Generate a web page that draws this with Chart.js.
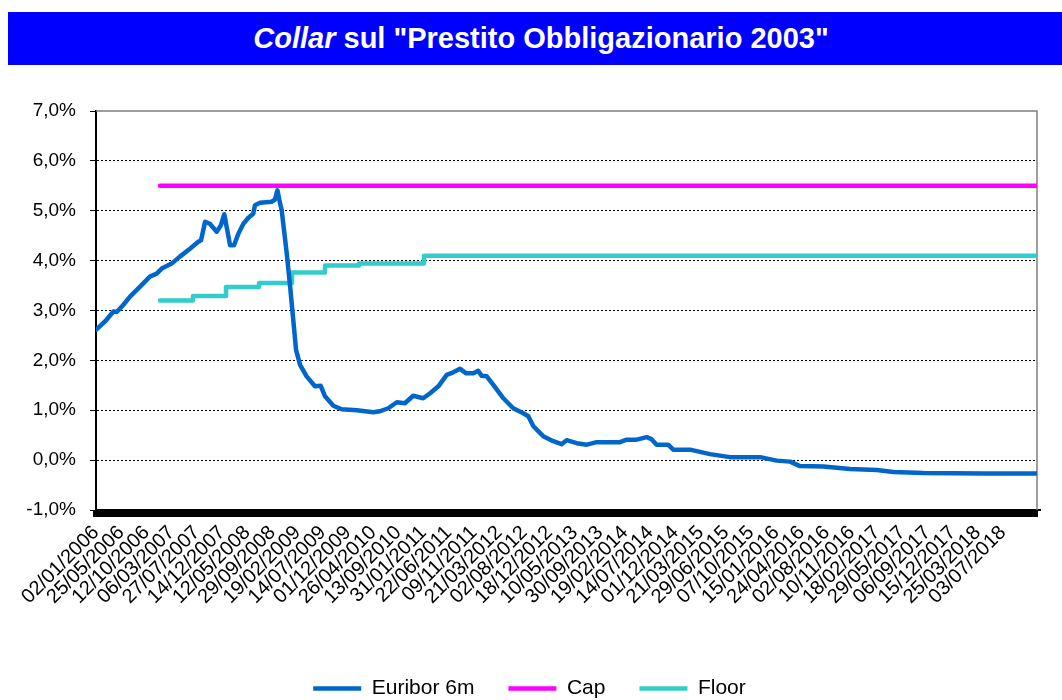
<!DOCTYPE html>
<html lang="it">
<head>
<meta charset="UTF-8">
<title>Collar sul "Prestito Obbligazionario 2003"</title>
<script src="https://cdn.jsdelivr.net/npm/chart.js"></script>
<style>
  body { margin: 0; background: #fff; overflow: hidden; }
  #titolo {
    position: absolute; left: 8px; top: 12px; width: 1042px; height: 53px; padding-left: 12px;
    background: #0000ff; color: #fff; text-align: center;
    font: bold 29px "Liberation Sans", Arial, sans-serif; line-height: 53px; z-index: 2;
  }
  #box { position: absolute; left: 0; top: 0; width: 1062px; height: 700px; }
</style>
</head>
<body>
<div id="titolo"><i>Collar</i> sul "Prestito Obbligazionario 2003"</div>
<div id="box"><canvas id="grafico" width="1062" height="700"></canvas></div>

<script>
// etichette dell'asse x: una ogni 100 osservazioni
const tickLabels = ['02/01/2006', '25/05/2006', '12/10/2006', '06/03/2007', '27/07/2007', '14/12/2007',
    '12/05/2008', '29/09/2008', '19/02/2009', '14/07/2009', '01/12/2009', '26/04/2010', '13/09/2010',
    '31/01/2011', '22/06/2011', '09/11/2011', '21/03/2012', '02/08/2012', '18/12/2012', '10/05/2013',
    '30/09/2013', '19/02/2014', '14/07/2014', '01/12/2014', '21/03/2015', '29/06/2015', '07/10/2015',
    '15/01/2016', '24/04/2016', '02/08/2016', '10/11/2016', '18/02/2017', '29/05/2017', '06/09/2017',
    '15/12/2017', '25/03/2018', '03/07/2018'];

// Euribor 6m (n. osservazione, valore %)
const euriborObs = [0, 36, 69, 82, 108, 135, 175, 214, 241, 261, 300, 333, 373, 406, 417, 433, 452, 479, 496, 509,
    521, 532, 548, 565, 585, 605, 624, 631, 651, 697, 710, 720, 728, 737, 757, 770, 783, 794, 810, 836,
    869, 892, 909, 942, 975, 1035, 1101, 1127, 1160, 1194, 1226, 1259, 1299, 1326, 1359, 1392, 1418, 1445, 1469, 1498,
    1517, 1531, 1551, 1577, 1617, 1656, 1696, 1716, 1736, 1775, 1815, 1848, 1868, 1908, 1948, 1987, 2080, 2106, 2146, 2186,
    2205, 2225, 2271, 2291, 2358, 2437, 2516, 2636, 2702, 2755, 2794, 2887, 2993, 3099, 3165, 3284, 3522, 3735];
const euriborVal = [2.61, 2.78, 2.98, 2.97, 3.11, 3.28, 3.48, 3.68, 3.74, 3.84, 3.94, 4.08, 4.24, 4.38, 4.41, 4.78, 4.74, 4.58, 4.71, 4.93,
    4.61, 4.31, 4.31, 4.54, 4.74, 4.86, 4.94, 5.11, 5.16, 5.18, 5.22, 5.41, 5.21, 5.01, 4.15, 3.51, 2.81, 2.21, 1.91, 1.68,
    1.48, 1.49, 1.28, 1.09, 1.02, 1.00, 0.96, 0.98, 1.04, 1.16, 1.14, 1.29, 1.24, 1.34, 1.48, 1.71, 1.76, 1.83, 1.74, 1.74,
    1.79, 1.69, 1.68, 1.51, 1.24, 1.04, 0.94, 0.88, 0.68, 0.48, 0.38, 0.32, 0.40, 0.34, 0.31, 0.36, 0.36, 0.41, 0.41, 0.46,
    0.42, 0.31, 0.31, 0.21, 0.21, 0.12, 0.06, 0.06, -0.01, -0.03, -0.12, -0.13, -0.18, -0.20, -0.24, -0.26, -0.27, -0.27];

// Cap e Floor (a gradini)
const capObs = [254, 3735];
const capVal = [5.5, 5.5];
const floorObs = [254, 385, 516, 647, 778, 909, 1044, 1302, 3735];
const floorVal = [3.2, 3.29, 3.47, 3.55, 3.76, 3.9, 3.94, 4.1, 4.1];

const font = '"Liberation Sans", Arial, sans-serif';

function punti(xs, ys) {
    return xs.map((x, i) => ({ x: x, y: ys[i] }));
}

// bordo grigio sopra e a destra dell'area del grafico
const cornice = {
    id: 'cornice',
    beforeDatasetsDraw(chart) {
        const { ctx, chartArea: a } = chart;
        ctx.save();
        ctx.strokeStyle = '#7f7f7f';
        ctx.lineWidth = 1.5;
        ctx.beginPath();
        ctx.moveTo(a.left, a.top);
        ctx.lineTo(a.right, a.top);
        ctx.lineTo(a.right, a.bottom);
        ctx.stroke();
        ctx.restore();
    }
};

const linea = { pointRadius: 0, borderWidth: 4.5, tension: 0, borderCapStyle: 'round', borderJoinStyle: 'round' };

new Chart(document.getElementById('grafico'), {
    type: 'line',
    data: {
        datasets: [
            Object.assign({ label: 'Euribor 6m', data: punti(euriborObs, euriborVal), borderColor: '#0066cc', backgroundColor: '#0066cc' }, linea),
            Object.assign({ label: 'Cap', data: punti(capObs, capVal), borderColor: '#ff00ff', backgroundColor: '#ff00ff' }, linea),
            Object.assign({ label: 'Floor', data: punti(floorObs, floorVal), borderColor: '#33cccc', backgroundColor: '#33cccc', stepped: true }, linea)
        ]
    },
    options: {
        responsive: false,
        animation: false,
        layout: { padding: { top: 111, right: 25, left: 22, bottom: -9 } },
        plugins: {
            legend: {
                position: 'bottom',
                labels: {
                    usePointStyle: true, pointStyle: 'line', pointStyleWidth: 48,
                    font: { size: 21, family: font }, color: '#000', padding: 34
                }
            },
            tooltip: { enabled: false }
        },
        scales: {
            x: {
                type: 'linear', min: 0, max: 3735,
                afterBuildTicks: ax => {
                    const t = [];
                    for (let v = 0; v <= 3725; v += 25) t.push({ value: v });
                    ax.ticks = t;
                },
                afterFit: s => { s.height = 134; },
                ticks: {
                    autoSkip: false, maxRotation: 45, minRotation: 45, padding: 4,
                    color: '#000', font: { size: 20, family: font },
                    callback: v => (v % 100 === 0 && tickLabels[v / 100]) || ''
                },
                grid: { drawOnChartArea: false, tickLength: 7, lineWidth: 7, color: '#000' },
                border: { color: '#000', width: 2 }
            },
            y: {
                min: -1, max: 7,
                afterFit: s => { s.width = 74; },
                ticks: {
                    stepSize: 1, padding: 14, color: '#000', font: { size: 19, family: font },
                    callback: v => v.toFixed(1).replace('.', ',') + '%'
                },
                grid: {
                    color: c => (c.tick && c.tick.value > -1 && c.tick.value < 7) ? '#000' : 'rgba(0,0,0,0)',
                    lineWidth: 1, tickColor: '#000', tickLength: 6, tickBorderDash: []
                },
                border: { color: '#000', width: 2, dash: [2, 2] }
            }
        }
    },
    plugins: [cornice]
});
</script>
</body>
</html>
